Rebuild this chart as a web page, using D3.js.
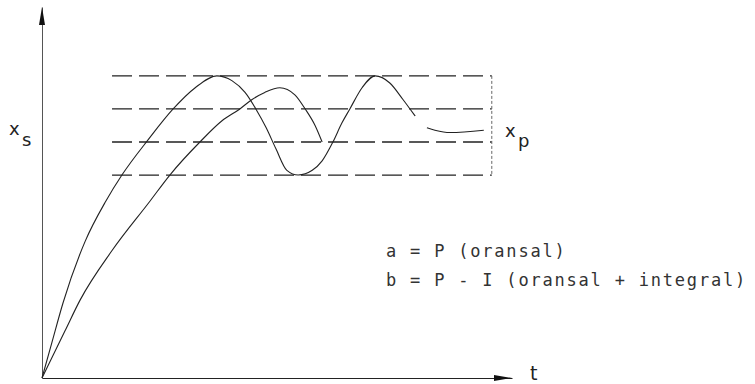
<!DOCTYPE html>
<html>
<head>
<meta charset="utf-8">
<script src="https://cdn.jsdelivr.net/npm/d3@7"></script>
<style>
  body { margin: 0; background: #fff; }
  svg { display: block; }
  .lbl { font-family: "DejaVu Sans", sans-serif; fill: #222; }
  .legend { font-family: "DejaVu Sans Mono", monospace; fill: #333; font-size: 17px; letter-spacing: 1.8px; }
</style>
</head>
<body>
<svg id="chart" width="755" height="384"></svg>
<script>
// response curves, time in arbitrary units, output relative to set point
const timeA = [0, 0.21, 0.45, 0.92, 1.36, 1.70, 2.26, 2.79, 3.26, 3.72, 4.04, 4.32, 4.55, 4.77, 4.98, 5.21, 5.45, 5.75, 5.96, 6.19, 6.38, 6.55, 6.81, 7.09, 7.40, 7.68, 7.83, 7.94, null, 8.19, 8.36, 8.68, 9.40];
const valA  = [0, 0.15, 0.32, 0.58, 0.75, 0.86, 1.01, 1.14, 1.23, 1.28, 1.26, 1.21, 1.14, 1.06, 0.97, 0.88, 0.86, 0.88, 0.92, 1.00, 1.08, 1.14, 1.23, 1.28, 1.25, 1.18, 1.14, 1.11, null, 1.06, 1.05, 1.04, 1.05];

const timeB = [0, 0.49, 0.81, 1.49, 2.30, 2.72, 3.36, 3.83, 4.21, 4.47, 4.74, 5.06, 5.38, 5.60, 5.81, 5.96];
const valB  = [0, 0.20, 0.33, 0.54, 0.75, 0.86, 1.00, 1.09, 1.14, 1.18, 1.21, 1.23, 1.20, 1.14, 1.07, 1.00];

// tolerance band levels and its time span
const bandLevels = [1.28, 1.14, 1.00, 0.86];
const bandSpan = [1.49, 9.57];

const legendLines = ["a = P (oransal)", "b = P - I (oransal + integral)"];

const svg = d3.select("#chart");

const x = d3.scaleLinear().domain([0, 10]).range([42, 512]);
const y = d3.scaleLinear().domain([0, 1.572]).range([378, 7]);

// axes (no ticks)
svg.append("g")
    .attr("transform", "translate(0," + y(0) + ")")
    .call(d3.axisBottom(x).ticks(0).tickSizeOuter(0))
    .select(".domain").attr("stroke", "#222").attr("stroke-width", 1.2);

svg.append("g")
    .attr("transform", "translate(" + x(0) + ",0)")
    .call(d3.axisLeft(y).ticks(0).tickSizeOuter(0))
    .select(".domain").attr("stroke", "#555").attr("stroke-width", 1);

// arrow heads
let xe = x.range()[1], ye = y.range()[1];
svg.append("path")
    .attr("d", `M${xe},${y(0)} L${xe - 18},${y(0) - 3} L${xe - 18},${y(0) + 3} Z`)
    .attr("fill", "#111");
svg.append("path")
    .attr("d", `M${x(0)},${ye} L${x(0) - 3},${ye + 18} L${x(0) + 3},${ye + 18} Z`)
    .attr("fill", "#111");

// tolerance band
svg.selectAll(".band")
    .data(bandLevels)
    .enter()
    .append("line")
    .attr("class", "band")
    .attr("x1", x(bandSpan[0]))
    .attr("x2", x(bandSpan[1]))
    .attr("y1", d => y(d))
    .attr("y2", d => y(d))
    .attr("stroke", "#222")
    .attr("stroke-width", 1.3)
    .attr("stroke-dasharray", "20 7");

svg.append("line")
    .attr("x1", x(bandSpan[1]))
    .attr("x2", x(bandSpan[1]))
    .attr("y1", y(d3.max(bandLevels)))
    .attr("y2", y(d3.min(bandLevels)))
    .attr("stroke", "#666")
    .attr("stroke-width", 1)
    .attr("stroke-dasharray", "3 2");

// curves
let line = d3.line()
    .defined(d => d[0] != null)
    .x(d => x(d[0]))
    .y(d => y(d[1]))
    .curve(d3.curveMonotoneX);

svg.append("path")
    .datum(timeA.map((t, i) => [t, valA[i]]))
    .attr("d", line)
    .attr("fill", "none")
    .attr("stroke", "#222")
    .attr("stroke-width", 1.1);

svg.append("path")
    .datum(timeB.map((t, i) => [t, valB[i]]))
    .attr("d", line)
    .attr("fill", "none")
    .attr("stroke", "#222")
    .attr("stroke-width", 1.1);

// labels
svg.append("text").attr("class", "lbl").attr("x", 9).attr("y", 135).attr("font-size", 18).text("x");
svg.append("text").attr("class", "lbl").attr("x", 22).attr("y", 146).attr("font-size", 18).text("s");
svg.append("text").attr("class", "lbl").attr("x", 505).attr("y", 137).attr("font-size", 18).text("x");
svg.append("text").attr("class", "lbl").attr("x", 518).attr("y", 147).attr("font-size", 18).text("p");
svg.append("text").attr("class", "lbl").attr("x", 530).attr("y", 380).attr("font-size", 19).text("t");

svg.selectAll(".legend")
    .data(legendLines)
    .enter()
    .append("text")
    .attr("class", "legend")
    .attr("x", 386)
    .attr("y", (d, i) => 257 + i * 29)
    .text(d => d);
</script>
</body>
</html>
